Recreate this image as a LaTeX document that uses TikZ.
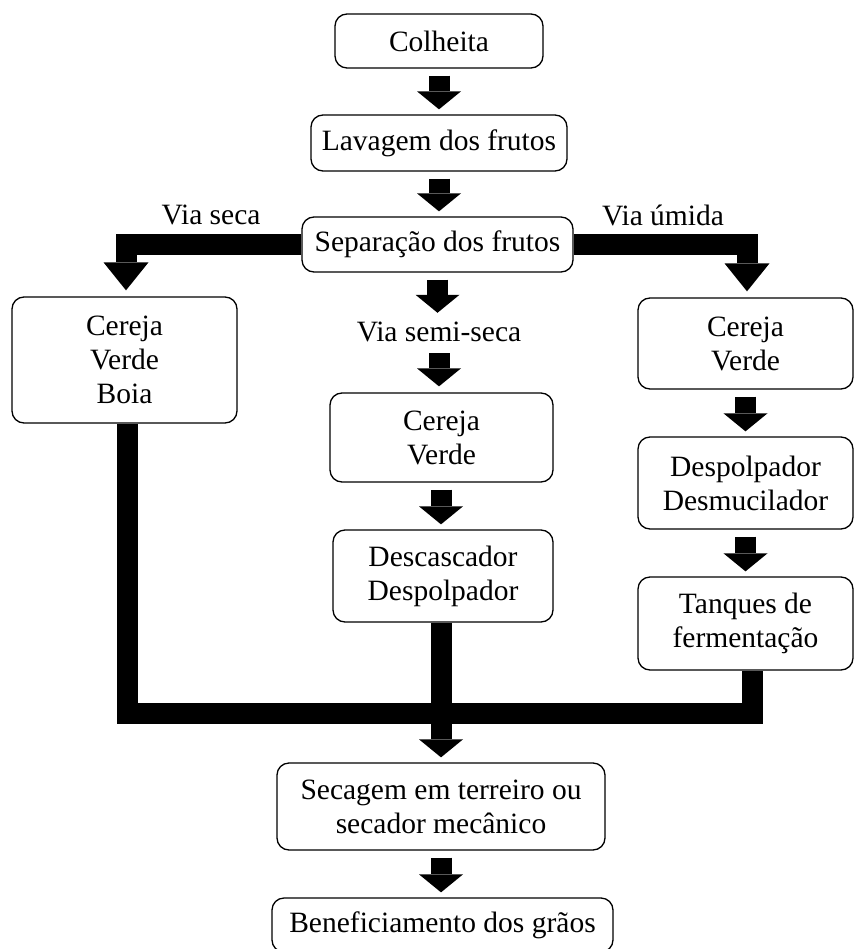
\documentclass[tikz,border=0pt]{standalone}
\usepackage{fontspec}
\setmainfont{Liberation Serif}
\usetikzlibrary{arrows.meta}

\tikzset{
  stage/.style={draw, line width=1.3pt, rounded corners=12pt, align=center, inner sep=0pt, fill=white},
  flow/.style={line width=21pt, -{Triangle[width=44pt,length=18pt,line width=0pt]}, shorten <=7pt, shorten >=5pt},
  branch/.style={line width=21pt, -{Triangle[width=45pt,length=28pt,line width=0pt]}, shorten >=6pt},
  joinbar/.style={line width=21pt}
}

\begin{document}
\begin{tikzpicture}[x=1pt,y=-1pt,font=\fontsize{29.5}{34}\selectfont]
\useasboundingbox (0,0) rectangle (854,949);
% main line
\node[stage, minimum width=208, minimum height=54] (colheita) at (439,41) {Colheita};
\node[stage, minimum width=256, minimum height=56] (lavagem) at (439,143) {Lavagem dos frutos};
\node[stage, minimum width=271, minimum height=55] (separacao) at (437.5,244.5) {Separação dos frutos};
\node (viaseca) at (211,215) {Via seca};
\node (viaumida) at (663,215) {Via úmida};
\node[inner sep=0pt, minimum height=30] (viasemi) at (439,332) {Via semi-seca};
% three ways
\node[stage, minimum width=225, minimum height=126] (seca) at (124.5,360) {Cereja\\Verde\\Boia};
\node[stage, minimum width=223, minimum height=89] (semi1) at (441.5,437.5) {Cereja\\Verde};
\node[stage, minimum width=220, minimum height=92] (semi2) at (443,576) {Descascador\\Despolpador};
\node[stage, minimum width=215, minimum height=91] (umida1) at (745.5,343.5) {Cereja\\Verde};
\node[stage, minimum width=215, minimum height=92] (umida2) at (745.5,483) {Despolpador\\Desmucilador};
\node[stage, minimum width=215, minimum height=93] (umida3) at (745.5,623.5) {Tanques de\\fermentação};
% end of the line
\node[stage, minimum width=328, minimum height=87] (secagem) at (441,806.5) {Secagem em terreiro ou\\secador mecânico};
\node[stage, minimum width=341, minimum height=54] (benef) at (442.5,925) {Beneficiamento dos grãos};
\coordinate (merge) at (441,713);

\draw[flow] (colheita.south) -- (colheita.south |- lavagem.north);
\draw[flow] (lavagem.south) -- (lavagem.south |- separacao.north);
\draw[flow, shorten >=4pt] (separacao.south) -- (separacao.south |- viasemi.north);
\draw[flow, shorten <=6pt, shorten >=6pt] (viasemi.south) -- (viasemi.south |- semi1.north);
\draw[flow] (semi1.south -| merge) -- (merge |- semi2.north);
\draw[flow] (umida1.south) -- (umida2.north);
\draw[flow] (umida2.south) -- (umida3.north);
\draw[branch] (separacao.west) -| ([xshift=1.5pt]seca.north);
\draw[branch] (separacao.east) -| ([xshift=1.5pt]umida1.north);
% joining bar
\draw[joinbar] ([xshift=2.5pt]seca.south) |- (merge) -| ([xshift=6.5pt]umida3.south);
\draw[joinbar] (semi2.south -| merge) -- (merge);
\draw[flow, shorten <=0pt] (merge) -- (merge |- secagem.north);
\draw[flow] (secagem.south -| merge) -- (merge |- benef.north);
\end{tikzpicture}
\end{document}
